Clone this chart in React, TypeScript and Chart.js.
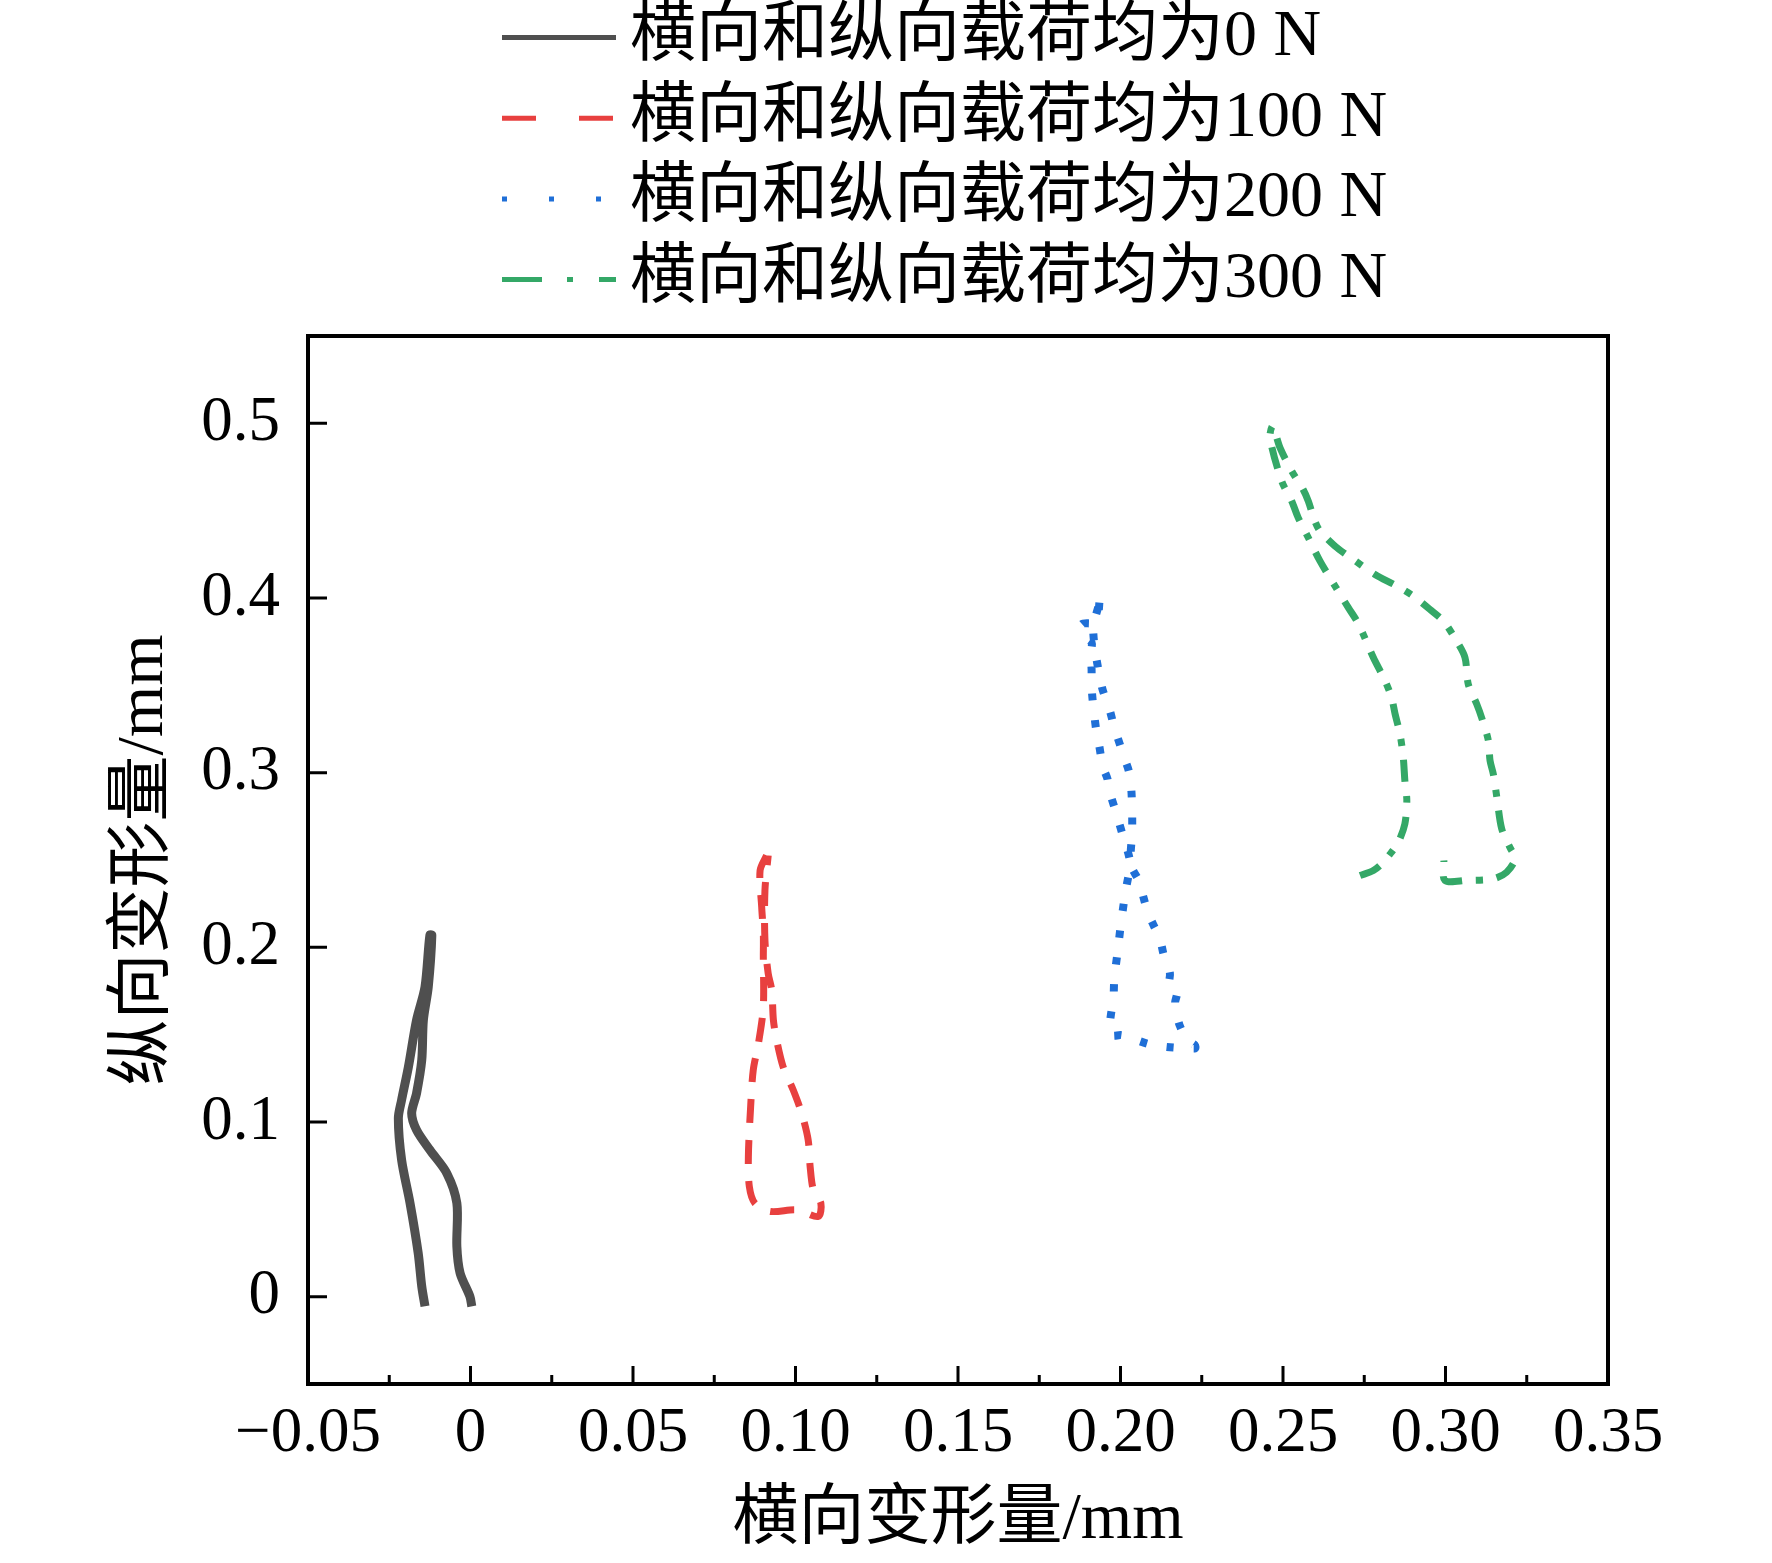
import React, { useEffect, useRef } from 'react';
import { Chart, registerables } from 'chart.js';

Chart.register(...registerables);

// ---------------- data ----------------
const seriesLabels = [
  '横向和纵向载荷均为0 N',
  '横向和纵向载荷均为100 N',
  '横向和纵向载荷均为200 N',
  '横向和纵向载荷均为300 N',
];

// 0 N
const grayX = [-0.0140, -0.0150, -0.0161, -0.0186, -0.0212, -0.0222, -0.0212, -0.0191, -0.0166, -0.0140, -0.0125,
  -0.0119, -0.0130, -0.0145, -0.0150, -0.0166, -0.0181, -0.0166, -0.0125, -0.0073, -0.0042, -0.0042, -0.0032, -0.0002, 0.0004];
const grayY = [-0.0055, 0.0059, 0.0250, 0.0535, 0.0783, 0.1021, 0.1126, 0.1316, 0.1583, 0.1773, 0.2069,
  0.2069, 0.1773, 0.1583, 0.1354, 0.1164, 0.1050, 0.0954, 0.0840, 0.0707, 0.0535, 0.0288, 0.0135, 0.0002, -0.0055];

// 100 N
const redX = [0.0911, 0.0891, 0.0896, 0.0901, 0.0901, 0.0901, 0.0886, 0.0870, 0.0862, 0.0855, 0.0858, 0.0875, 0.0922,
  0.1004, 0.1070, 0.1078, 0.1055, 0.1045, 0.1039, 0.1019, 0.0993, 0.0962, 0.0942, 0.0932, 0.0927, 0.0916, 0.0906, 0.0906, 0.0916];
const redY = [0.2526, 0.2440, 0.2230, 0.2078, 0.1945, 0.1659, 0.1450, 0.1297, 0.1088, 0.0802, 0.0630, 0.0535, 0.0488,
  0.0497, 0.0459, 0.0535, 0.0611, 0.0745, 0.0897, 0.1050, 0.1183, 0.1316, 0.1469, 0.1583, 0.1754, 0.1850, 0.2040, 0.2326, 0.2526];

// 200 N
const blueX = [0.1935, 0.1932, 0.1922, 0.1881, 0.1886, 0.1911, 0.1908, 0.1911, 0.1911, 0.1914, 0.1919, 0.1927, 0.1934,
  0.1939, 0.1944, 0.1960, 0.1962, 0.1985, 0.2009, 0.2029, 0.2017, 0.2011, 0.2001, 0.1991, 0.1981, 0.1978, 0.1971, 0.1968,
  0.1973, 0.2004, 0.2101, 0.2229, 0.2229, 0.2204, 0.2183, 0.2173, 0.2168, 0.2173, 0.2150, 0.2152, 0.2132, 0.2122, 0.2098,
  0.2083, 0.2070, 0.2057, 0.2032, 0.2036, 0.2034, 0.2026, 0.2007, 0.2001, 0.1981, 0.1966, 0.1942, 0.1916, 0.1935];
const blueY = [0.3973, 0.3916, 0.3859, 0.3850, 0.3783, 0.3745, 0.3678, 0.3593, 0.3497, 0.3421, 0.3335, 0.3221, 0.3160,
  0.3103, 0.3040, 0.2964, 0.2920, 0.2779, 0.2627, 0.2488, 0.2335, 0.2265, 0.2130, 0.1973, 0.1821, 0.1697, 0.1621, 0.1564,
  0.1497, 0.1497, 0.1440, 0.1421, 0.1440, 0.1472, 0.1549, 0.1617, 0.1684, 0.1739, 0.1779, 0.1853, 0.1964, 0.2044, 0.2141,
  0.2206, 0.2291, 0.2379, 0.2474, 0.2672, 0.2882, 0.3006, 0.3107, 0.3145, 0.3259, 0.3364, 0.3497, 0.3815, 0.3973];

// 300 N
const greenX = [0.2737, 0.2778, 0.2809, 0.2834, 0.2855, 0.2875, 0.2881, 0.2875, 0.2870, 0.2860, 0.2845, 0.2834, 0.2814,
  0.2778, 0.2747, 0.2727, 0.2701, 0.2660, 0.2614, 0.2578, 0.2547, 0.2527, 0.2496, 0.2460, 0.2468,
  0.2491, 0.2527, 0.2562, 0.2578, 0.2598, 0.2614, 0.2660, 0.2716, 0.2783, 0.2850, 0.2901, 0.2952, 0.2993, 0.3034, 0.3060,
  0.3070, 0.3096, 0.3111, 0.3132, 0.3137, 0.3147, 0.3158, 0.3173, 0.3198, 0.3214, 0.3188, 0.3147, 0.3065, 0.2998, 0.2995];
const greenY = [0.2411, 0.2440, 0.2488, 0.2545, 0.2602, 0.2707, 0.2840, 0.2954, 0.3088, 0.3221, 0.3335, 0.3430, 0.3526,
  0.3659, 0.3792, 0.3869, 0.3945, 0.4069, 0.4211, 0.4345, 0.4459, 0.4554, 0.4669, 0.4916, 0.4983,
  0.4859, 0.4726, 0.4621, 0.4554, 0.4440, 0.4383, 0.4297, 0.4221, 0.4135, 0.4069, 0.4011, 0.3935, 0.3869, 0.3754, 0.3659,
  0.3507, 0.3393, 0.3316, 0.3183, 0.3069, 0.2993, 0.2859, 0.2678, 0.2573, 0.2507, 0.2430, 0.2392, 0.2383, 0.2383, 0.2497];

const xMajorTicks = [-0.05, 0, 0.05, 0.1, 0.15, 0.2, 0.25, 0.3, 0.35];
const xMinorTicks = [-0.025, 0.025, 0.075, 0.125, 0.175, 0.225, 0.275, 0.325];
const yMajorTicks = [0, 0.1, 0.2, 0.3, 0.4, 0.5];

// ---------------- styles ----------------
const colors = ['#4f4f4f', '#e8403f', '#1f6fd7', '#34a867'];
const plotWidths = [9, 7, 8, 7];
const plotDashes: number[][] = [[], [24, 17], [7, 20], [22, 14, 7, 14]];
const legendDashes: number[][] = [[], [34, 43], [5, 42], [40, 25, 6, 26]];

const FONT = "'Liberation Serif', 'Times New Roman', 'Noto Sans CJK SC', serif";

function toPts(xs: number[], ys: number[]) {
  return xs.map((x, i) => ({ x, y: ys[i] }));
}

function fmtX(v: number) {
  if (Math.abs(v) < 1e-9) return '0';
  return (v < 0 ? '\u2212' : '') + Math.abs(v).toFixed(2);
}
function fmtY(v: number) {
  if (Math.abs(v) < 1e-9) return '0';
  return v.toFixed(1);
}

const framePlugin = {
  id: 'frameAndLegend',
  afterDraw(chart: any) {
    const { ctx, chartArea: a, scales } = chart;
    const xs = scales.x;
    const ys = scales.y;
    ctx.save();
    ctx.strokeStyle = '#000';
    ctx.lineCap = 'butt';
    // ticks (inward)
    ctx.lineWidth = 3;
    ctx.beginPath();
    xMajorTicks.forEach((v) => {
      const px = xs.getPixelForValue(v);
      if (px <= a.left + 2 || px >= a.right - 2) return;
      ctx.moveTo(px, a.bottom);
      ctx.lineTo(px, a.bottom - 18);
    });
    xMinorTicks.forEach((v) => {
      const px = xs.getPixelForValue(v);
      ctx.moveTo(px, a.bottom);
      ctx.lineTo(px, a.bottom - 9);
    });
    yMajorTicks.forEach((v) => {
      const py = ys.getPixelForValue(v);
      ctx.moveTo(a.left, py);
      ctx.lineTo(a.left + 19, py);
    });
    ctx.stroke();
    // frame
    ctx.lineWidth = 4;
    ctx.strokeRect(a.left, a.top, a.right - a.left, a.bottom - a.top);

    // legend
    const rowY0 = 37.5;
    const rowGap = 80.7;
    const x0 = 502;
    const x1 = 616;
    chart.data.datasets.forEach((ds: any, i: number) => {
      const yy = rowY0 + i * rowGap;
      ctx.strokeStyle = ds.borderColor;
      ctx.lineWidth = 5;
      ctx.setLineDash(legendDashes[i]);
      ctx.beginPath();
      ctx.moveTo(x0, yy);
      ctx.lineTo(x1, yy);
      ctx.stroke();
      ctx.setLineDash([]);
      ctx.fillStyle = '#000';
      ctx.font = `66px ${FONT}`;
      ctx.textAlign = 'left';
      ctx.textBaseline = 'middle';
      ctx.fillText(ds.label, 630, yy);
    });
    ctx.restore();
  },
};

export default function App() {
  const ref = useRef<HTMLCanvasElement | null>(null);

  useEffect(() => {
    document.body.style.margin = '0';
    if (!ref.current) return;
    const series = [
      toPts(grayX, grayY),
      toPts(redX, redY),
      toPts(blueX, blueY),
      toPts(greenX, greenY),
    ];
    const chart = new Chart(ref.current, {
      type: 'scatter',
      data: {
        datasets: series.map((pts, i) => ({
          label: seriesLabels[i],
          data: pts,
          showLine: true,
          borderColor: colors[i],
          backgroundColor: colors[i],
          borderWidth: plotWidths[i],
          borderDash: plotDashes[i],
          borderCapStyle: 'butt',
          borderJoinStyle: 'round',
          pointRadius: 0,
          pointHoverRadius: 0,
          tension: 0.3,
        })),
      },
      options: {
        animation: false,
        responsive: false,
        devicePixelRatio: 1,
        events: [],
        layout: { padding: { top: 336, right: 164, left: 0, bottom: 0 } },
        plugins: {
          legend: { display: false },
          tooltip: { enabled: false },
          title: { display: false },
        },
        scales: {
          x: {
            type: 'linear',
            min: -0.05,
            max: 0.35,
            grid: { display: false, drawTicks: false },
            border: { display: false },
            afterBuildTicks: (scale: any) => {
              scale.ticks = xMajorTicks.map((v) => ({ value: v }));
            },
            afterFit: (scale: any) => {
              scale.height = 179;
            },
            ticks: {
              autoSkip: false,
              maxRotation: 0,
              minRotation: 0,
              padding: 13,
              color: '#000',
              font: { family: FONT, size: 63 },
              callback: (v: any) => fmtX(Number(v)),
            },
            title: {
              display: true,
              text: '横向变形量/mm',
              color: '#000',
              font: { family: FONT, size: 66 },
              padding: { top: 0, bottom: 3 },
            },
          },
          y: {
            type: 'linear',
            min: -0.05,
            max: 0.55,
            grid: { display: false, drawTicks: false },
            border: { display: false },
            afterBuildTicks: (scale: any) => {
              scale.ticks = yMajorTicks.map((v) => ({ value: v }));
            },
            afterFit: (scale: any) => {
              scale.width = 308;
            },
            ticks: {
              autoSkip: false,
              padding: 28,
              color: '#000',
              font: { family: FONT, size: 63 },
              callback: (v: any) => fmtY(Number(v)),
            },
            title: {
              display: true,
              text: '纵向变形量/mm',
              color: '#000',
              font: { family: FONT, size: 66 },
              padding: { top: 105, bottom: 0 },
            },
          },
        },
      },
      plugins: [framePlugin],
    } as any);
    return () => chart.destroy();
  }, []);

  return (
    <div style={{ width: 1772, height: 1563, background: '#fff' }}>
      <canvas ref={ref} width={1772} height={1563} style={{ display: 'block' }} />
    </div>
  );
}
